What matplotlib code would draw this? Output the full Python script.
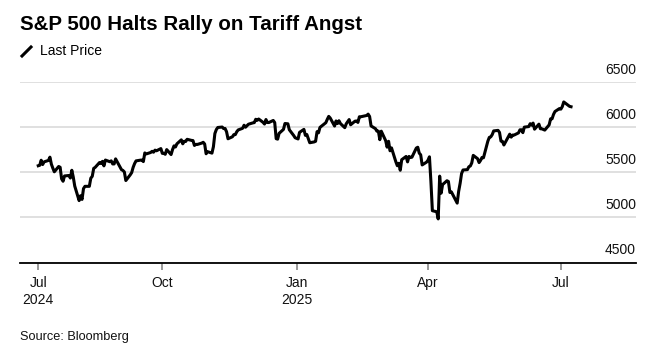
import numpy as np
import pandas as pd
import matplotlib
matplotlib.use("Agg")
import matplotlib.pyplot as plt
from matplotlib.transforms import ScaledTranslation
from matplotlib.lines import Line2D

plt.rcParams['font.family'] = ['Liberation Sans', 'DejaVu Sans']

# S&P 500 daily closes, by month (approx)
jul24 = [5572, 5577, 5633, 5585, 5615, 5631, 5667, 5589, 5545, 5505, 5564, 5555,
         5427, 5400, 5459, 5464, 5436, 5522]
aug24 = [5446, 5347, 5186, 5240, 5199, 5319, 5344, 5344, 5434, 5455, 5543, 5554,
         5608, 5597, 5621, 5571, 5635, 5617, 5626, 5592, 5592, 5648]
sep24 = [5529, 5520, 5503, 5408, 5471, 5496, 5554, 5596, 5626, 5634, 5635, 5618,
         5714, 5703, 5719, 5732, 5722, 5745, 5738, 5762]
oct24 = [5709, 5710, 5699, 5751, 5696, 5751, 5792, 5780, 5815, 5859, 5815, 5843,
         5841, 5865, 5853, 5851, 5797, 5809, 5808, 5823, 5832, 5813, 5705]
nov24 = [5728, 5712, 5783, 5929, 5973, 5996, 6001, 5984, 5985, 5949, 5871, 5893,
         5917, 5917, 5949, 5969, 5987, 6021, 5999, 6032]
dec24 = [6047, 6050, 6087, 6075, 6090, 6053, 6034, 6084, 6051, 6051, 6074, 6050,
         5872, 5867, 5931, 5975, 6040, 6037, 5971, 5907, 5882]
jan25 = [5869, 5942, 5975, 5909, 5918, 5827, 5836, 5843, 5950, 5937, 5997, 6049,
         6086, 6119, 6101, 6012, 6068, 6039, 6071, 6040]
feb25 = [5994, 6037, 6061, 6084, 6026, 6066, 6068, 6052, 6115, 6115, 6129, 6144,
         6118, 6013, 5983, 5955, 5956, 5861, 5955]
mar25 = [5850, 5778, 5843, 5738, 5770, 5615, 5572, 5599, 5522, 5639, 5675, 5615,
         5675, 5663, 5667, 5768, 5777, 5712, 5693, 5581, 5612]
apr25 = [5633, 5671, 5397, 5074, 5062, 4983, 5457, 5268, 5363, 5406, 5397, 5276,
         5283, 5158, 5288, 5376, 5485, 5525, 5529, 5561, 5569]
may25 = [5604, 5687, 5650, 5607, 5631, 5664, 5660, 5844, 5886, 5892, 5917, 5958,
         5964, 5941, 5845, 5842, 5802, 5922, 5889, 5912, 5912]
jun25 = [5936, 5970, 5971, 5939, 6000, 6006, 6038, 6022, 6045, 5977, 6033, 5982,
         5981, 5967, 6025, 6092, 6092, 6141, 6173, 6205]
jul25 = [6199, 6227, 6279, 6230, 6226]

closes = (jul24 + aug24 + sep24 + oct24 + nov24 + dec24 + jan25 + feb25 + mar25
          + apr25 + may25 + jun25 + jul25)

holidays = ["2024-09-02", "2024-11-28", "2024-12-25", "2025-01-01", "2025-01-09",
            "2025-01-20", "2025-02-17", "2025-04-18", "2025-05-26", "2025-06-19",
            "2025-07-04"]
days = pd.bdate_range("2024-07-08", "2025-07-08")
days = days[~days.isin(pd.to_datetime(holidays))]
n = min(len(days), len(closes))
days, closes = days[:n], closes[:n]

tick_dates = pd.to_datetime(["2024-07-08", "2024-10-01", "2025-01-01",
                             "2025-04-01", "2025-07-01"])
tick_labels = ["Jul\n2024", "Oct", "Jan\n2025", "Apr", "Jul"]
y_ticks = [4500, 5000, 5500, 6000, 6500]

W, H = 656, 349
fig = plt.figure(figsize=(W / 100, H / 100), dpi=100)
ax = fig.add_axes([20 / W, 1 - 262.5 / H, 616 / W, 180.5 / H])

ax.plot(days, closes, color='black', lw=2.2, solid_joinstyle='round', clip_on=False)
ax.set_xlim(pd.Timestamp("2024-06-25 12:00"), pd.Timestamp("2025-08-21 12:00"))
ax.set_ylim(4500, 6500)

for s in ['top', 'right', 'left']:
    ax.spines[s].set_visible(False)
ax.spines['bottom'].set_linewidth(1.3)
ax.spines['bottom'].set_zorder(3)

ax.set_yticks(y_ticks)
ax.set_yticklabels([str(v) for v in y_ticks])
ax.yaxis.grid(True, color='#dddddd', lw=1.3)
ax.set_axisbelow(True)
ax.tick_params(axis='y', length=0, labelleft=False, labelright=True, pad=0,
               labelsize=10, labelcolor='#111111')
for lab in ax.get_yticklabels():
    lab.set_ha('right')
    lab.set_transform(lab.get_transform() +
                      ScaledTranslation(0, 14 / 100, fig.dpi_scale_trans))

ax.set_xticks(tick_dates)
ax.set_xticklabels(tick_labels)
ax.tick_params(axis='x', length=5, width=1.2, color='#888888', pad=5,
               labelsize=10, labelcolor='#111111')

fig.text(20 / W, 1 - 24 / H, "S&P 500 Halts Rally on Tariff Angst",
         fontsize=14.8, fontweight='bold', va='center', ha='left')
fig.add_artist(Line2D([22 / W, 31 / W], [1 - 56 / H, 1 - 47 / H], color='black',
                      lw=2.2, transform=fig.transFigure))
fig.text(40 / W, 1 - 51 / H, "Last Price", fontsize=10, va='center', ha='left')
fig.text(20 / W, 1 - 337 / H, "Source: Bloomberg", fontsize=9.2, va='center',
         ha='left', color='#111111')

fig.savefig("out.png", dpi=100)
